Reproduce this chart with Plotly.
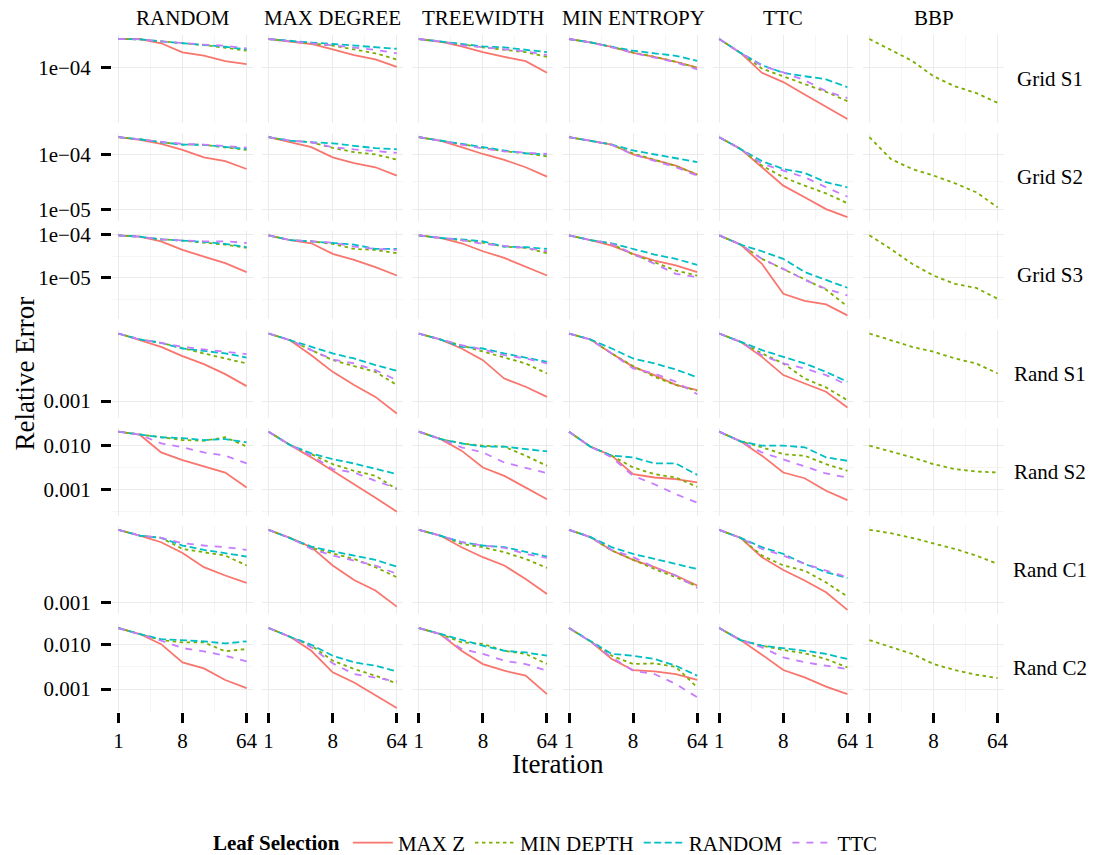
import math
import plotly.graph_objects as go

iterations = [1, 2, 4, 8, 16, 32, 64]
columns = ["RANDOM", "MAX DEGREE", "TREEWIDTH", "MIN ENTROPY", "TTC", "BBP"]
rows = ["Grid S1", "Grid S2", "Grid S3", "Rand S1", "Rand S2", "Rand C1", "Rand C2"]
methods = ["MAX Z", "MIN DEPTH", "RANDOM", "TTC"]

# per panel: [MAX Z, MIN DEPTH, RANDOM, TTC]; BBP only has MIN DEPTH
grid_s1 = {
    "RANDOM": [
        [2.26e-4, 2.26e-4, 2.0e-4, 1.54e-4, 1.41e-4, 1.20e-4, 1.10e-4],
        [2.26e-4, 2.24e-4, 2.11e-4, 2.0e-4, 1.90e-4, 1.76e-4, 1.62e-4],
        [2.26e-4, 2.24e-4, 2.11e-4, 2.0e-4, 1.92e-4, 1.81e-4, 1.68e-4],
        [2.26e-4, 2.24e-4, 2.11e-4, 2.0e-4, 1.93e-4, 1.86e-4, 1.73e-4]],
    "MAX DEGREE": [
        [2.26e-4, 2.09e-4, 1.96e-4, 1.68e-4, 1.43e-4, 1.26e-4, 1.02e-4],
        [2.26e-4, 2.11e-4, 2.0e-4, 1.87e-4, 1.68e-4, 1.50e-4, 1.26e-4],
        [2.26e-4, 2.13e-4, 2.04e-4, 1.96e-4, 1.87e-4, 1.79e-4, 1.71e-4],
        [2.26e-4, 2.11e-4, 2.0e-4, 1.89e-4, 1.79e-4, 1.66e-4, 1.50e-4]],
    "TREEWIDTH": [
        [2.26e-4, 2.09e-4, 1.83e-4, 1.55e-4, 1.36e-4, 1.20e-4, 8.6e-5],
        [2.26e-4, 2.11e-4, 1.94e-4, 1.78e-4, 1.66e-4, 1.55e-4, 1.36e-4],
        [2.26e-4, 2.11e-4, 1.94e-4, 1.83e-4, 1.78e-4, 1.66e-4, 1.55e-4],
        [2.26e-4, 2.11e-4, 1.89e-4, 1.78e-4, 1.71e-4, 1.59e-4, 1.43e-4]],
    "MIN ENTROPY": [
        [2.26e-4, 2.05e-4, 1.81e-4, 1.52e-4, 1.36e-4, 1.18e-4, 1.0e-4],
        [2.26e-4, 2.05e-4, 1.81e-4, 1.54e-4, 1.36e-4, 1.18e-4, 9.9e-5],
        [2.26e-4, 2.05e-4, 1.81e-4, 1.62e-4, 1.50e-4, 1.40e-4, 1.21e-4],
        [2.26e-4, 2.05e-4, 1.78e-4, 1.52e-4, 1.33e-4, 1.16e-4, 9.5e-5]],
    "TTC": [
        [2.26e-4, 1.52e-4, 8.6e-5, 6.6e-5, 4.64e-5, 3.29e-5, 2.30e-5],
        [2.26e-4, 1.52e-4, 9.7e-5, 7.8e-5, 6.2e-5, 5.0e-5, 3.83e-5],
        [2.26e-4, 1.52e-4, 1.07e-4, 8.6e-5, 7.8e-5, 7.15e-5, 5.7e-5],
        [2.26e-4, 1.52e-4, 1.05e-4, 8.7e-5, 6.95e-5, 5.1e-5, 4.18e-5]],
    "BBP": [2.26e-4, 1.65e-4, 1.21e-4, 7.8e-5, 5.85e-5, 4.83e-5, 3.65e-5],
}

grid_s2 = {
    "RANDOM": [
        [2.04e-4, 1.82e-4, 1.54e-4, 1.20e-4, 8.8e-5, 7.5e-5, 5.4e-5],
        [2.04e-4, 1.87e-4, 1.65e-4, 1.50e-4, 1.48e-4, 1.34e-4, 1.20e-4],
        [2.04e-4, 1.87e-4, 1.65e-4, 1.50e-4, 1.48e-4, 1.38e-4, 1.25e-4],
        [2.04e-4, 1.87e-4, 1.68e-4, 1.54e-4, 1.50e-4, 1.42e-4, 1.32e-4]],
    "MAX DEGREE": [
        [2.04e-4, 1.65e-4, 1.34e-4, 8.8e-5, 6.9e-5, 5.8e-5, 4.09e-5],
        [2.04e-4, 1.77e-4, 1.65e-4, 1.30e-4, 1.09e-4, 9.9e-5, 8.0e-5],
        [2.04e-4, 1.77e-4, 1.65e-4, 1.58e-4, 1.42e-4, 1.29e-4, 1.23e-4],
        [2.04e-4, 1.77e-4, 1.65e-4, 1.34e-4, 1.22e-4, 1.13e-4, 1.06e-4]],
    "TREEWIDTH": [
        [2.04e-4, 1.77e-4, 1.34e-4, 1.01e-4, 7.9e-5, 5.8e-5, 3.93e-5],
        [2.04e-4, 1.77e-4, 1.50e-4, 1.29e-4, 1.13e-4, 1.04e-4, 9.1e-5],
        [2.04e-4, 1.77e-4, 1.54e-4, 1.34e-4, 1.17e-4, 1.04e-4, 9.9e-5],
        [2.04e-4, 1.77e-4, 1.50e-4, 1.27e-4, 1.13e-4, 1.07e-4, 1.01e-4]],
    "MIN ENTROPY": [
        [2.04e-4, 1.77e-4, 1.50e-4, 9.9e-5, 7.9e-5, 6.2e-5, 4.27e-5],
        [2.04e-4, 1.77e-4, 1.50e-4, 1.03e-4, 7.9e-5, 6.1e-5, 4.27e-5],
        [2.04e-4, 1.77e-4, 1.50e-4, 1.17e-4, 9.9e-5, 8.6e-5, 7.2e-5],
        [2.04e-4, 1.77e-4, 1.48e-4, 9.9e-5, 7.6e-5, 5.8e-5, 4.09e-5]],
    "TTC": [
        [2.04e-4, 1.25e-4, 5.8e-5, 2.69e-5, 1.65e-5, 1.01e-5, 7.2e-6],
        [2.04e-4, 1.25e-4, 6.2e-5, 3.82e-5, 2.69e-5, 1.95e-5, 1.29e-5],
        [2.04e-4, 1.25e-4, 7.5e-5, 5.4e-5, 4.58e-5, 3.10e-5, 2.51e-5],
        [2.04e-4, 1.25e-4, 6.7e-5, 5.05e-5, 3.82e-5, 2.51e-5, 1.70e-5]],
    "BBP": [2.04e-4, 8.2e-5, 5.4e-5, 4.1e-5, 2.97e-5, 2.04e-5, 1.09e-5],
}

grid_s3 = {
    "RANDOM": [
        [9.8e-5, 9.1e-5, 7.1e-5, 4.48e-5, 3.13e-5, 2.19e-5, 1.36e-5],
        [9.8e-5, 9.1e-5, 7.9e-5, 7.4e-5, 6.6e-5, 5.96e-5, 4.99e-5],
        [9.8e-5, 9.1e-5, 7.9e-5, 7.4e-5, 6.9e-5, 6.2e-5, 5.2e-5],
        [9.8e-5, 9.1e-5, 7.9e-5, 7.4e-5, 7.1e-5, 7.1e-5, 6.5e-5]],
    "MAX DEGREE": [
        [9.8e-5, 7.6e-5, 6.4e-5, 3.61e-5, 2.62e-5, 1.77e-5, 1.13e-5],
        [9.8e-5, 7.6e-5, 7.1e-5, 6.2e-5, 4.72e-5, 4.48e-5, 3.75e-5],
        [9.8e-5, 7.6e-5, 7.1e-5, 6.6e-5, 5.96e-5, 4.72e-5, 4.72e-5],
        [9.8e-5, 7.6e-5, 7.1e-5, 6.6e-5, 5.36e-5, 4.72e-5, 4.48e-5]],
    "TREEWIDTH": [
        [9.8e-5, 8.5e-5, 6.4e-5, 4.17e-5, 2.92e-5, 1.84e-5, 1.13e-5],
        [9.8e-5, 8.5e-5, 7.6e-5, 6.6e-5, 5.36e-5, 4.99e-5, 3.75e-5],
        [9.8e-5, 8.5e-5, 7.9e-5, 7.1e-5, 5.36e-5, 5.2e-5, 4.72e-5],
        [9.8e-5, 8.5e-5, 7.6e-5, 6.2e-5, 5.6e-5, 4.99e-5, 4.17e-5]],
    "MIN ENTROPY": [
        [9.8e-5, 7.6e-5, 5.65e-5, 3.61e-5, 2.53e-5, 1.94e-5, 1.36e-5],
        [9.8e-5, 7.6e-5, 6.2e-5, 3.49e-5, 2.31e-5, 1.48e-5, 1.13e-5],
        [9.8e-5, 7.6e-5, 6.4e-5, 4.72e-5, 3.49e-5, 2.77e-5, 2.0e-5],
        [9.8e-5, 7.6e-5, 6.2e-5, 3.61e-5, 2.12e-5, 1.24e-5, 1.04e-5]],
    "TTC": [
        [9.8e-5, 5.96e-5, 2.12e-5, 4.25e-6, 2.9e-6, 2.4e-6, 1.33e-6],
        [9.8e-5, 5.96e-5, 2.77e-5, 1.62e-5, 9.4e-6, 5.3e-6, 2.15e-6],
        [9.8e-5, 5.96e-5, 4.17e-5, 2.77e-5, 1.36e-5, 9.0e-6, 5.85e-6],
        [9.8e-5, 5.96e-5, 2.77e-5, 1.62e-5, 9.0e-6, 5.55e-6, 3.88e-6]],
    "BBP": [9.8e-5, 4.72e-5, 2.12e-5, 1.13e-5, 7.2e-6, 5.8e-6, 3.25e-6],
}

rand_s1 = {
    "RANDOM": [
        [4.75e-3, 4.07e-3, 3.49e-3, 2.82e-3, 2.34e-3, 1.86e-3, 1.41e-3],
        [4.75e-3, 4.14e-3, 3.83e-3, 3.36e-3, 3.0e-3, 2.67e-3, 2.38e-3],
        [4.75e-3, 4.14e-3, 3.83e-3, 3.36e-3, 3.18e-3, 3.0e-3, 2.73e-3],
        [4.75e-3, 4.14e-3, 3.83e-3, 3.5e-3, 3.29e-3, 3.12e-3, 2.95e-3]],
    "MAX DEGREE": [
        [4.75e-3, 4.07e-3, 2.88e-3, 1.96e-3, 1.45e-3, 1.10e-3, 7.5e-4],
        [4.75e-3, 4.07e-3, 3.24e-3, 2.57e-3, 2.24e-3, 1.96e-3, 1.45e-3],
        [4.75e-3, 4.07e-3, 3.49e-3, 3.0e-3, 2.67e-3, 2.29e-3, 2.01e-3],
        [4.75e-3, 4.07e-3, 3.24e-3, 2.61e-3, 2.38e-3, 2.04e-3, 1.62e-3]],
    "TREEWIDTH": [
        [4.75e-3, 4.14e-3, 3.36e-3, 2.57e-3, 1.68e-3, 1.39e-3, 1.10e-3],
        [4.75e-3, 4.14e-3, 3.55e-3, 3.12e-3, 2.73e-3, 2.38e-3, 1.89e-3],
        [4.75e-3, 4.14e-3, 3.49e-3, 3.36e-3, 3.0e-3, 2.73e-3, 2.47e-3],
        [4.75e-3, 4.14e-3, 3.63e-3, 3.29e-3, 2.88e-3, 2.67e-3, 2.38e-3]],
    "MIN ENTROPY": [
        [4.75e-3, 4.14e-3, 3.0e-3, 2.2e-3, 1.82e-3, 1.45e-3, 1.29e-3],
        [4.75e-3, 4.14e-3, 3.0e-3, 2.24e-3, 1.75e-3, 1.45e-3, 1.27e-3],
        [4.75e-3, 4.14e-3, 3.36e-3, 2.67e-3, 2.38e-3, 2.07e-3, 1.73e-3],
        [4.75e-3, 4.14e-3, 3.0e-3, 2.12e-3, 1.89e-3, 1.56e-3, 1.17e-3]],
    "TTC": [
        [4.75e-3, 3.92e-3, 2.77e-3, 1.82e-3, 1.50e-3, 1.24e-3, 8.6e-4],
        [4.75e-3, 3.92e-3, 3.0e-3, 2.38e-3, 1.68e-3, 1.37e-3, 1.02e-3],
        [4.75e-3, 3.92e-3, 3.24e-3, 2.77e-3, 2.38e-3, 1.96e-3, 1.56e-3],
        [4.75e-3, 3.92e-3, 2.88e-3, 2.38e-3, 2.12e-3, 1.82e-3, 1.45e-3]],
    "BBP": [4.75e-3, 4.07e-3, 3.49e-3, 3.12e-3, 2.67e-3, 2.38e-3, 1.89e-3],
}

rand_s2 = {
    "RANDOM": [
        [2.1e-2, 1.79e-2, 7.0e-3, 4.67e-3, 3.34e-3, 2.42e-3, 1.09e-3],
        [2.1e-2, 1.79e-2, 1.56e-2, 1.35e-2, 1.30e-2, 1.56e-2, 9.6e-3],
        [2.1e-2, 1.79e-2, 1.56e-2, 1.50e-2, 1.35e-2, 1.42e-2, 1.19e-2],
        [2.1e-2, 1.79e-2, 1.13e-2, 9.2e-3, 7.0e-3, 5.9e-3, 3.91e-3]],
    "MAX DEGREE": [
        [2.1e-2, 1.04e-2, 5.4e-3, 2.65e-3, 1.35e-3, 6.4e-4, 3.05e-4],
        [2.1e-2, 1.04e-2, 6.4e-3, 3.77e-3, 2.65e-3, 2.04e-3, 1.0e-3],
        [2.1e-2, 1.04e-2, 6.65e-3, 4.92e-3, 3.91e-3, 2.9e-3, 2.22e-3],
        [2.1e-2, 1.04e-2, 5.9e-3, 2.9e-3, 2.42e-3, 1.56e-3, 1.05e-3]],
    "TREEWIDTH": [
        [2.1e-2, 1.43e-2, 7.7e-3, 3.16e-3, 2.03e-3, 1.09e-3, 5.9e-4],
        [2.1e-2, 1.43e-2, 1.13e-2, 1.0e-2, 9.5e-3, 5.9e-3, 3.45e-3],
        [2.1e-2, 1.43e-2, 1.13e-2, 9.5e-3, 9.5e-3, 8.4e-3, 7.4e-3],
        [2.1e-2, 1.43e-2, 9.2e-3, 7.0e-3, 4.12e-3, 3.16e-3, 2.34e-3]],
    "MIN ENTROPY": [
        [2.1e-2, 9.5e-3, 5.9e-3, 2.22e-3, 1.86e-3, 1.70e-3, 1.43e-3],
        [2.1e-2, 9.5e-3, 5.9e-3, 3.16e-3, 2.22e-3, 1.86e-3, 1.13e-3],
        [2.1e-2, 9.5e-3, 5.9e-3, 5.4e-3, 3.91e-3, 3.91e-3, 2.14e-3],
        [2.1e-2, 9.5e-3, 5.4e-3, 2.03e-3, 1.30e-3, 7.7e-4, 4.9e-4]],
    "TTC": [
        [2.1e-2, 1.26e-2, 5.9e-3, 2.42e-3, 1.79e-3, 9.2e-4, 5.6e-4],
        [2.1e-2, 1.26e-2, 9.2e-3, 6.4e-3, 5.9e-3, 3.77e-3, 2.65e-3],
        [2.1e-2, 1.26e-2, 1.0e-2, 1.0e-2, 9.2e-3, 5.4e-3, 4.5e-3],
        [2.1e-2, 1.26e-2, 7.0e-3, 4.9e-3, 3.34e-3, 2.3e-3, 1.86e-3]],
    "BBP": [1.0e-2, 7.4e-3, 5.4e-3, 3.77e-3, 2.9e-3, 2.56e-3, 2.42e-3],
}

rand_c1 = {
    "RANDOM": [
        [5.29e-3, 4.64e-3, 3.98e-3, 3.11e-3, 2.24e-3, 1.85e-3, 1.56e-3],
        [5.29e-3, 4.64e-3, 4.40e-3, 3.41e-3, 3.16e-3, 2.93e-3, 2.33e-3],
        [5.29e-3, 4.64e-3, 4.40e-3, 3.69e-3, 3.34e-3, 3.09e-3, 2.86e-3],
        [5.29e-3, 4.64e-3, 4.40e-3, 3.89e-3, 3.69e-3, 3.55e-3, 3.34e-3]],
    "MAX DEGREE": [
        [5.29e-3, 4.40e-3, 3.55e-3, 2.33e-3, 1.67e-3, 1.31e-3, 9.05e-4],
        [5.29e-3, 4.40e-3, 3.50e-3, 3.09e-3, 2.71e-3, 2.24e-3, 1.78e-3],
        [5.29e-3, 4.40e-3, 3.60e-3, 3.23e-3, 2.93e-3, 2.65e-3, 2.27e-3],
        [5.29e-3, 4.40e-3, 3.41e-3, 2.93e-3, 2.61e-3, 2.33e-3, 1.92e-3]],
    "TREEWIDTH": [
        [5.29e-3, 4.64e-3, 3.55e-3, 2.82e-3, 2.33e-3, 1.71e-3, 1.21e-3],
        [5.29e-3, 4.64e-3, 3.83e-3, 3.55e-3, 3.16e-3, 2.71e-3, 2.20e-3],
        [5.29e-3, 4.64e-3, 3.98e-3, 3.69e-3, 3.55e-3, 3.16e-3, 2.86e-3],
        [5.29e-3, 4.64e-3, 3.98e-3, 3.69e-3, 3.50e-3, 3.04e-3, 2.78e-3]],
    "MIN ENTROPY": [
        [5.29e-3, 4.48e-3, 3.29e-3, 2.65e-3, 2.24e-3, 1.85e-3, 1.47e-3],
        [5.29e-3, 4.48e-3, 3.29e-3, 2.65e-3, 2.15e-3, 1.78e-3, 1.44e-3],
        [5.29e-3, 4.48e-3, 3.55e-3, 3.04e-3, 2.71e-3, 2.42e-3, 2.15e-3],
        [5.29e-3, 4.48e-3, 3.34e-3, 2.82e-3, 2.24e-3, 1.85e-3, 1.39e-3]],
    "TTC": [
        [5.29e-3, 4.40e-3, 2.82e-3, 2.10e-3, 1.65e-3, 1.26e-3, 8.4e-4],
        [5.29e-3, 4.40e-3, 2.93e-3, 2.33e-3, 2.07e-3, 1.58e-3, 1.14e-3],
        [5.29e-3, 4.40e-3, 3.55e-3, 3.04e-3, 2.42e-3, 2.0e-3, 1.75e-3],
        [5.29e-3, 4.40e-3, 3.41e-3, 2.93e-3, 2.42e-3, 2.07e-3, 1.78e-3]],
    "BBP": [5.29e-3, 4.90e-3, 4.40e-3, 3.89e-3, 3.41e-3, 2.93e-3, 2.42e-3],
}

rand_c2 = {
    "RANDOM": [
        [2.38e-2, 1.74e-2, 1.03e-2, 4.0e-3, 2.92e-3, 1.60e-3, 1.05e-3],
        [2.38e-2, 1.74e-2, 1.27e-2, 1.13e-2, 1.13e-2, 7.1e-3, 8.0e-3],
        [2.38e-2, 1.74e-2, 1.34e-2, 1.27e-2, 1.19e-2, 1.07e-2, 1.19e-2],
        [2.38e-2, 1.74e-2, 1.23e-2, 8.4e-3, 7.1e-3, 5.65e-3, 4.21e-3]],
    "MAX DEGREE": [
        [2.38e-2, 1.51e-2, 7.3e-3, 2.38e-3, 1.41e-3, 7.1e-4, 3.73e-4],
        [2.38e-2, 1.51e-2, 9.5e-3, 4.36e-3, 2.83e-3, 2.0e-3, 1.34e-3],
        [2.38e-2, 1.51e-2, 1.0e-2, 5.65e-3, 4.0e-3, 3.36e-3, 2.5e-3],
        [2.38e-2, 1.51e-2, 8.7e-3, 3.8e-3, 2.18e-3, 1.83e-3, 1.49e-3]],
    "TREEWIDTH": [
        [2.38e-2, 1.74e-2, 7.3e-3, 3.66e-3, 2.59e-3, 2.0e-3, 7.7e-4],
        [2.38e-2, 1.74e-2, 1.13e-2, 1.04e-2, 7.3e-3, 6.2e-3, 3.66e-3],
        [2.38e-2, 1.74e-2, 1.27e-2, 9.5e-3, 7.3e-3, 6.7e-3, 5.65e-3],
        [2.38e-2, 1.74e-2, 8.0e-3, 6.2e-3, 4.36e-3, 3.66e-3, 2.59e-3]],
    "MIN ENTROPY": [
        [2.38e-2, 1.19e-2, 4.75e-3, 2.68e-3, 2.5e-3, 2.18e-3, 1.6e-3],
        [2.38e-2, 1.19e-2, 5.65e-3, 3.66e-3, 3.79e-3, 3.16e-3, 1.09e-3],
        [2.38e-2, 1.19e-2, 6.2e-3, 5.65e-3, 4.75e-3, 3.36e-3, 2.0e-3],
        [2.38e-2, 1.19e-2, 5.2e-3, 2.59e-3, 2.18e-3, 1.30e-3, 6.5e-4]],
    "TTC": [
        [2.38e-2, 1.27e-2, 5.95e-3, 2.68e-3, 1.83e-3, 1.13e-3, 7.7e-4],
        [2.38e-2, 1.27e-2, 9.5e-3, 7.6e-3, 6.4e-3, 4.75e-3, 3.08e-3],
        [2.38e-2, 1.27e-2, 9.5e-3, 8.4e-3, 7.3e-3, 6.2e-3, 4.75e-3],
        [2.38e-2, 1.27e-2, 8.7e-3, 5.2e-3, 4.0e-3, 3.36e-3, 2.83e-3]],
    "BBP": [1.27e-2, 9.0e-3, 6.2e-3, 3.66e-3, 2.68e-3, 2.1e-3, 1.77e-3],
}

panels = {
    "Grid S1": grid_s1, "Grid S2": grid_s2, "Grid S3": grid_s3,
    "Rand S1": rand_s1, "Rand S2": rand_s2, "Rand C1": rand_c1, "Rand C2": rand_c2,
}

row_ticks = {
    "Grid S1": ([1e-4], ["1e\u221204"]),
    "Grid S2": ([1e-5, 1e-4], ["1e\u221205", "1e\u221204"]),
    "Grid S3": ([1e-5, 1e-4], ["1e\u221205", "1e\u221204"]),
    "Rand S1": ([1e-3], ["0.001"]),
    "Rand S2": ([1e-3, 1e-2], ["0.001", "0.010"]),
    "Rand C1": ([1e-3], ["0.001"]),
    "Rand C2": ([1e-3, 1e-2], ["0.001", "0.010"]),
}
x_ticks = [1, 8, 64]

colors = ["#F8766D", "#7CAE00", "#00BFC4", "#C77CFF"]
dashes = ["solid", "3.5px,3.5px", "7px,3.5px", "7px,7px"]

W, H = 1094, 855
FONT = "Liberation Serif"
GRID = "#EBEBEB"
GRID_MINOR = "#F5F5F5"

col_left0, col_step, col_w = 112, 150.2, 141
row_top0, row_step, row_h = 35, 98.17, 88


def px_x(p):
    return p / W


def px_y(p):
    return 1 - p / H


fig = go.Figure()
axes = {}

lx = [math.log10(iterations[0]), math.log10(iterations[-1])]
xpad = 0.05 * (lx[1] - lx[0])
x_range = [lx[0] - xpad, lx[1] + xpad]
x_minor = [math.sqrt(a * b) for a, b in zip(x_ticks[:-1], x_ticks[1:])]

for r, row in enumerate(rows):
    data = panels[row]
    vals = []
    for col in columns:
        ser = [data[col]] if col == "BBP" else data[col]
        for s in ser:
            vals.extend(s)
    lo, hi = math.log10(min(vals)), math.log10(max(vals))
    pad = 0.05 * (hi - lo)
    y_range = [lo - pad, hi + pad]
    tv, tt = row_ticks[row]
    y_minor = []
    if len(tv) >= 2:
        y_minor = [t * math.sqrt(10) for t in tv] + [tv[0] / math.sqrt(10)]

    top = row_top0 + row_step * r
    ydom = [px_y(top + row_h), px_y(top)]
    last_row = r == len(rows) - 1

    for c, col in enumerate(columns):
        k = r * len(columns) + c + 1
        sfx = "" if k == 1 else str(k)
        left = col_left0 + col_step * c
        axes["xaxis" + sfx] = dict(
            type="log", domain=[px_x(left), px_x(left + col_w)], range=x_range,
            anchor="y" + sfx, tickvals=x_ticks, ticktext=[str(v) for v in x_ticks],
            showticklabels=last_row, ticks="outside" if last_row else "",
            ticklen=10, tickwidth=2.5, tickcolor="black", automargin=False,
            tickfont=dict(family=FONT, size=21, color="black"),
            showgrid=True, gridcolor=GRID, gridwidth=1.4, zeroline=False, showline=False,
            minor=dict(tickvals=x_minor, showgrid=True, gridcolor=GRID_MINOR, gridwidth=1, ticks=""),
        )
        yax = dict(
            type="log", domain=ydom, range=y_range, anchor="x" + sfx,
            tickvals=tv, ticktext=tt, showticklabels=(c == 0),
            ticks="outside" if c == 0 else "", ticklen=10, tickwidth=2.5, tickcolor="black",
            ticklabelstandoff=6, automargin=False,
            tickfont=dict(family=FONT, size=21, color="black"),
            showgrid=True, gridcolor=GRID, gridwidth=1.4, zeroline=False, showline=False,
        )
        if y_minor:
            yax["minor"] = dict(tickvals=y_minor, showgrid=True, gridcolor=GRID_MINOR,
                                gridwidth=1, ticks="")
        axes["yaxis" + sfx] = yax

        if col == "BBP":
            series = [(1, data[col])]
        else:
            series = list(enumerate(data[col]))
        for m, ys in series:
            fig.add_trace(go.Scatter(
                x=iterations, y=ys, mode="lines", name=methods[m], legendgroup=methods[m],
                showlegend=(r == 0 and c == 0), xaxis="x" + sfx, yaxis="y" + sfx,
                line=dict(color=colors[m], width=1.8, dash=dashes[m]),
                hoverinfo="skip",
            ))

annotations = []
for c, col in enumerate(columns):
    left = col_left0 + col_step * c
    annotations.append(dict(text=col, x=px_x(left + col_w / 2), y=px_y(18), xref="paper",
                            yref="paper", showarrow=False, xanchor="center", yanchor="middle",
                            font=dict(family=FONT, size=21, color="black")))
for r, row in enumerate(rows):
    top = row_top0 + row_step * r
    annotations.append(dict(text=row, x=px_x(1050), y=px_y(top + row_h / 2), xref="paper",
                            yref="paper", showarrow=False, xanchor="center", yanchor="middle",
                            font=dict(family=FONT, size=21, color="black")))
annotations.append(dict(text="Relative Error", x=px_x(24), y=px_y(373.5), xref="paper",
                        yref="paper", showarrow=False, textangle=-90, xanchor="center",
                        yanchor="middle", font=dict(family=FONT, size=27, color="black")))
annotations.append(dict(text="Iteration", x=px_x(557.5), y=px_y(764), xref="paper",
                        yref="paper", showarrow=False, xanchor="center", yanchor="middle",
                        font=dict(family=FONT, size=27, color="black")))

fig.update_layout(
    width=W, height=H,
    margin=dict(l=0, r=0, t=0, b=0, autoexpand=False),
    paper_bgcolor="white", plot_bgcolor="white",
    font=dict(family=FONT, size=21, color="black"),
    annotations=annotations,
    legend=dict(
        orientation="h", x=0.5, xanchor="center", y=px_y(843), yanchor="middle",
        title=dict(text="<b>Leaf Selection</b>", side="left", font=dict(family=FONT, size=21)),
        font=dict(family=FONT, size=21, color="black"), bgcolor="rgba(0,0,0,0)",
        itemwidth=40,
    ),
    **axes,
)

# the page body has a default 8px margin; drop it so the figure fills the window
fig.write_html("out.html", config={"displayModeBar": False},
               post_script="document.body.style.margin='0';"
                           "document.body.style.overflow='hidden';")
